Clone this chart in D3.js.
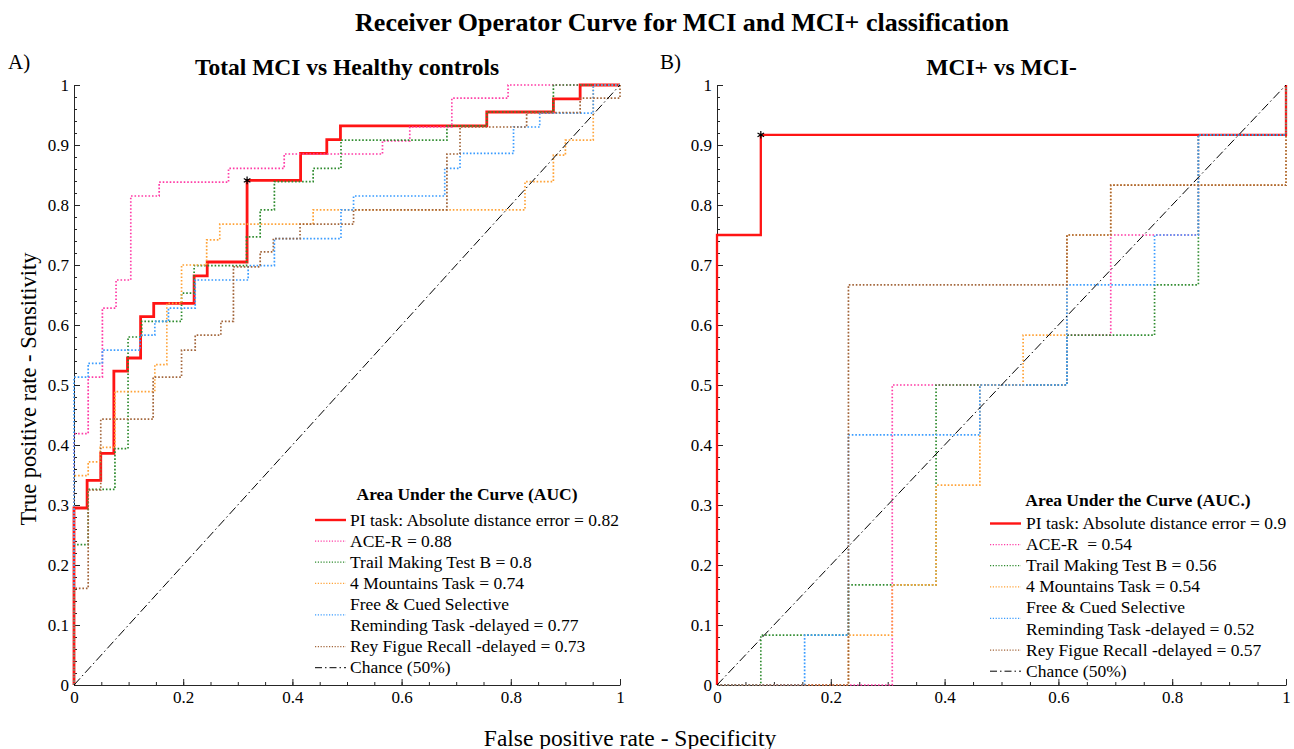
<!DOCTYPE html>
<html>
<head>
<meta charset="utf-8">
<script src="https://cdn.jsdelivr.net/npm/d3@7"></script>
<style>
  body { margin: 0; background: #fff; }
  text { font-family: "Liberation Serif", "Times New Roman", serif; fill: #000; }
</style>
</head>
<body>
<svg id="chart" width="1294" height="749"></svg>
<script>
// ROC points [fpr, tpr] (drawn as steps: across, then up)
const rocA_pi    = [[0,0],[0,0.295],[0.024,0.341],[0.049,0.386],[0.073,0.523],[0.098,0.545],[0.122,0.614],[0.146,0.636],[0.220,0.682],[0.244,0.705],[0.317,0.841],[0.415,0.886],[0.463,0.909],[0.488,0.932],[0.756,0.955],[0.878,0.977],[0.927,1],[1,1]];
const rocA_ace   = [[0,0],[0,0.419],[0.026,0.513],[0.052,0.628],[0.077,0.675],[0.104,0.815],[0.156,0.838],[0.283,0.861],[0.385,0.885],[0.565,0.907],[0.615,0.930],[0.692,0.978],[0.795,1],[1,1]];
const rocA_tmt   = [[0,0],[0,0.234],[0.026,0.326],[0.075,0.394],[0.099,0.580],[0.124,0.606],[0.197,0.653],[0.220,0.699],[0.316,0.747],[0.341,0.792],[0.367,0.839],[0.438,0.861],[0.489,0.908],[0.683,0.932],[0.756,0.955],[0.878,1],[1,1]];
const rocA_mtn   = [[0,0],[0,0.349],[0.026,0.372],[0.048,0.396],[0.075,0.489],[0.148,0.534],[0.170,0.636],[0.197,0.700],[0.243,0.742],[0.267,0.768],[0.438,0.792],[0.826,0.839],[0.878,0.883],[0.900,0.908],[0.951,1],[1,1]];
const rocA_fcsrt = [[0,0],[0,0.513],[0.026,0.536],[0.052,0.558],[0.121,0.583],[0.148,0.606],[0.173,0.628],[0.222,0.675],[0.319,0.699],[0.367,0.744],[0.489,0.792],[0.512,0.815],[0.679,0.861],[0.707,0.886],[0.805,0.930],[0.853,0.953],[0.951,1],[1,1]];
const rocA_rey   = [[0,0],[0,0.161],[0.026,0.325],[0.049,0.443],[0.145,0.513],[0.197,0.558],[0.222,0.583],[0.269,0.606],[0.292,0.697],[0.341,0.722],[0.365,0.744],[0.414,0.768],[0.512,0.792],[0.683,0.885],[0.707,0.930],[0.829,0.954],[0.927,0.978],[1,1]];

const rocB_pi    = [[0,0],[0,0.75],[0.077,0.917],[1,1]];
const rocB_ace   = [[0,0],[0.308,0.5],[0.615,0.583],[0.692,0.75],[0.846,0.917],[1,1]];
const rocB_tmt   = [[0,0],[0.077,0.083],[0.231,0.167],[0.385,0.5],[0.615,0.583],[0.769,0.667],[0.846,0.917],[1,1]];
const rocB_mtn   = [[0,0],[0.231,0.083],[0.308,0.167],[0.385,0.333],[0.462,0.5],[0.538,0.583],[0.615,0.75],[0.692,0.833],[1,1]];
const rocB_fcsrt = [[0,0],[0.154,0.083],[0.231,0.417],[0.462,0.5],[0.615,0.667],[0.769,0.75],[0.846,0.917],[1,1]];
const rocB_rey   = [[0,0],[0.231,0.667],[0.615,0.75],[0.692,0.833],[1,1]];

// optimal operating points (asterisks)
const optimalA = [0.317, 0.841];
const optimalB = [0.077, 0.917];

const legendA = ["PI task: Absolute distance error = 0.82", "ACE-R = 0.88", "Trail Making Test B = 0.8",
  "4 Mountains Task = 0.74", "Free & Cued Selective|Reminding Task -delayed = 0.77",
  "Rey Figue Recall -delayed = 0.73", "Chance (50%)"];
const legendB = ["PI task: Absolute distance error = 0.9", "ACE-R  = 0.54", "Trail Making Test B = 0.56",
  "4 Mountains Task = 0.54", "Free & Cued Selective|Reminding Task -delayed = 0.52",
  "Rey Figue Recall -delayed = 0.57", "Chance (50%)"];

const seriesColors = ["#ff1414", "#ff3ca6", "#2e8b2e", "#ffa236", "#3a9cff", "#a2653a"];
const yTicks = [0, 0.1, 0.2, 0.3, 0.4, 0.5, 0.6, 0.7, 0.8, 0.9, 1];
const xTicks = [0, 0.2, 0.4, 0.6, 0.8, 1];

const svg = d3.select("#chart");
const axisColor = "#262626";
const fmt = d => String(+d.toFixed(2));

const panels = [
  { tag: "A)", tagX: 8, title: "Total MCI vs Healthy controls", x0: 74, x1: 620,
    curves: [rocA_pi, rocA_ace, rocA_tmt, rocA_mtn, rocA_fcsrt, rocA_rey],
    optimal: optimalA, labels: legendA, redWidth: 2.8,
    leg: { lineX: 315, textX: 350, titleX: 467, titleY: 500, rowY: 520, title: "Area Under the Curve (AUC)" } },
  { tag: "B)", tagX: 660, title: "MCI+ vs MCI-", x0: 717, x1: 1286,
    curves: [rocB_pi, rocB_ace, rocB_tmt, rocB_mtn, rocB_fcsrt, rocB_rey],
    optimal: optimalB, labels: legendB, redWidth: 2.3,
    leg: { lineX: 990, textX: 1026, titleX: 1138, titleY: 506, rowY: 523.5, title: "Area Under the Curve (AUC.)" } }
];

// figure title and shared labels
svg.append("text").attr("x", 682).attr("y", 31).attr("text-anchor", "middle")
  .style("font-size", "26px").style("font-weight", "bold")
  .text("Receiver Operator Curve for MCI and MCI+ classification");

svg.append("text").attr("transform", "translate(36,389) rotate(-90)").attr("text-anchor", "middle")
  .style("font-size", "22.5px").text("True positive rate - Sensitivity");

svg.append("text").attr("x", 630).attr("y", 746).attr("text-anchor", "middle")
  .style("font-size", "23.5px").text("False positive rate - Specificity");

panels.forEach(p => {
  const x = d3.scaleLinear().domain([0, 1]).range([p.x0, p.x1]);
  const y = d3.scaleLinear().domain([0, 1]).range([685, 85]);
  const g = svg.append("g");

  g.append("text").attr("x", p.tagX).attr("y", 69).style("font-size", "21px").text(p.tag);
  g.append("text").attr("x", (p.x0 + p.x1) / 2).attr("y", 75).attr("text-anchor", "middle")
    .style("font-size", "23.5px").style("font-weight", "bold").text(p.title);

  // minor ticks
  g.append("g").attr("transform", `translate(${p.x0},0)`)
    .call(d3.axisLeft(y).tickValues(d3.range(0, 1.001, 0.02)).tickSize(-3).tickFormat(""))
    .call(a => a.select(".domain").remove());
  g.append("g").attr("transform", "translate(0,685)")
    .call(d3.axisBottom(x).tickValues(d3.range(0, 1.001, 0.05)).tickSize(-3).tickFormat(""))
    .call(a => a.select(".domain").remove());

  // major axes, ticks pointing inwards
  const ya = g.append("g").attr("transform", `translate(${p.x0},0)`)
    .call(d3.axisLeft(y).tickValues(yTicks).tickSizeInner(-6).tickSizeOuter(0).tickPadding(5).tickFormat(fmt));
  const xa = g.append("g").attr("transform", "translate(0,685)")
    .call(d3.axisBottom(x).tickValues(xTicks).tickSizeInner(-6).tickSizeOuter(0).tickPadding(6).tickFormat(fmt));
  [ya, xa].forEach(a => {
    a.selectAll("line,path").attr("stroke", axisColor);
    a.selectAll("text").style("font-size", "17px").style("font-family", "Liberation Serif").attr("fill", axisColor);
  });
  g.selectAll(".tick line").attr("stroke", axisColor);

  // curves
  const line = d3.line().x(d => x(d[0])).y(d => y(d[1])).curve(d3.curveStepAfter);
  p.curves.forEach((c, i) => {
    const path = g.append("path").datum(c).attr("d", line).attr("fill", "none")
      .attr("stroke", seriesColors[i]);
    if (i === 0) path.attr("stroke-width", p.redWidth);
    else path.attr("stroke-width", 1.7).attr("stroke-dasharray", "1.6 1.9");
  });

  // chance diagonal
  g.append("line").attr("x1", x(0)).attr("y1", y(0)).attr("x2", x(1)).attr("y2", y(1))
    .attr("stroke", "#000").attr("stroke-width", 1).attr("stroke-dasharray", "9 3 1.5 3");

  // optimal point
  g.append("path").attr("transform", `translate(${x(p.optimal[0])},${y(p.optimal[1])})`)
    .attr("d", d3.symbol(d3.symbolAsterisk, 40)).attr("fill", "none").attr("stroke", "#000").attr("stroke-width", 1.2);

  // legend
  const L = p.leg;
  const lg = g.append("g");
  lg.append("text").attr("x", L.titleX).attr("y", L.titleY).attr("text-anchor", "middle")
    .style("font-size", "17.5px").style("font-weight", "bold").text(L.title);
  let row = 0;
  const rowH = 21.1;
  p.labels.forEach((lab, i) => {
    const parts = lab.split("|");
    const cy = L.rowY + (row + (parts.length - 1) / 2) * rowH;
    const sample = lg.append("line").attr("x1", L.lineX).attr("x2", L.lineX + 31).attr("y1", cy).attr("y2", cy);
    if (i === 0) sample.attr("stroke", seriesColors[0]).attr("stroke-width", 2.4);
    else if (i < 6) sample.attr("stroke", seriesColors[i]).attr("stroke-width", 1.3).attr("stroke-dasharray", "1.2 1.6");
    else sample.attr("stroke", "#000").attr("stroke-width", 1).attr("stroke-dasharray", "7 3 1.5 3");
    parts.forEach((t, k) => {
      lg.append("text").attr("x", L.textX).attr("y", L.rowY + (row + k) * rowH + 5.5)
        .style("font-size", "17.5px").style("white-space", "pre").text(t);
    });
    row += parts.length;
  });
});
</script>
</body>
</html>
